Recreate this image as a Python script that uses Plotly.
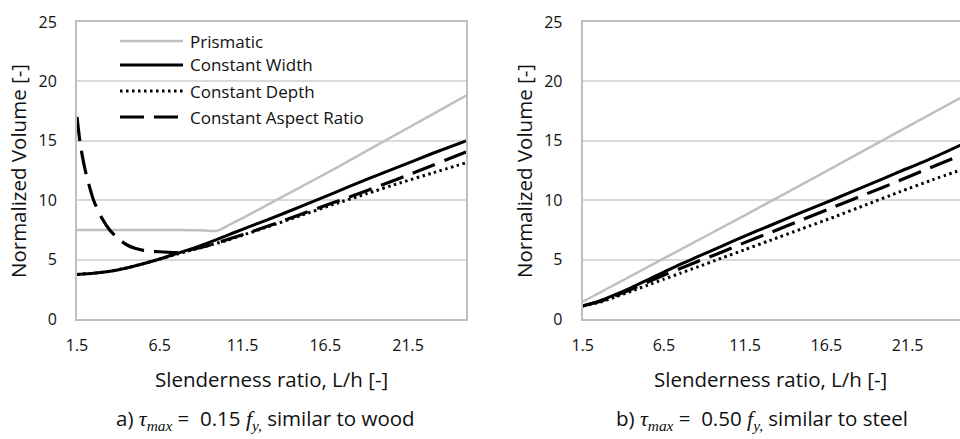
import plotly.graph_objects as go

# ---------------- Data ----------------
# Panel a) tau_max = 0.15 fy (wood)
a_prism_x = [1.5, 3.0, 5.0, 7.0, 8.5, 9.3, 9.8, 10.2, 10.6, 11.5, 13.0, 15.0, 17.0, 19.0, 21.0, 23.0, 25.0]
a_prism_y = [7.5, 7.5, 7.5, 7.5, 7.48, 7.44, 7.4, 7.55, 7.85, 8.5, 9.6, 11.1, 12.6, 14.15, 15.7, 17.25, 18.8]

a_width_x = [1.5, 2.5, 3.5, 4.5, 5.5, 6.5, 7.5, 8.5, 9.5, 10.5, 11.5, 13.0, 15.0, 17.0, 19.0, 21.0, 23.0, 25.0]
a_width_y = [3.75, 3.85, 4.02, 4.3, 4.65, 5.05, 5.5, 5.95, 6.45, 7.0, 7.55, 8.35, 9.45, 10.6, 11.75, 12.85, 13.95, 15.0]

a_depth_x = [1.5, 2.5, 3.5, 4.5, 5.5, 6.5, 7.5, 8.5, 9.5, 10.5, 11.5, 13.0, 15.0, 17.0, 19.0, 21.0, 23.0, 25.0]
a_depth_y = [3.75, 3.85, 4.02, 4.3, 4.65, 5.05, 5.45, 5.82, 6.2, 6.6, 7.05, 7.75, 8.7, 9.65, 10.55, 11.45, 12.3, 13.15]

a_aspect_x = [1.5, 1.7, 2.0, 2.5, 3.0, 3.5, 4.0, 4.5, 5.0, 5.5, 6.0, 6.5, 7.0, 7.5, 8.5, 9.5, 10.5, 11.5, 13.0, 15.0, 17.0, 19.0, 21.0, 23.0, 25.0]
a_aspect_y = [17.0, 14.7, 12.5, 10.0, 8.5, 7.45, 6.75, 6.25, 5.95, 5.78, 5.7, 5.66, 5.62, 5.6, 5.88, 6.22, 6.65, 7.1, 7.8, 8.8, 9.8, 10.8, 11.85, 12.95, 14.05]

# Panel b) tau_max = 0.50 fy (steel)
b_prism_x = [1.5, 6.5, 11.5, 16.5, 21.5, 25.0]
b_prism_y = [1.45, 5.1, 8.75, 12.45, 16.2, 18.8]

b_x = [1.5, 2.5, 3.5, 4.5, 5.5, 6.5, 7.5, 8.5, 10.0, 11.5, 13.0, 15.0, 17.0, 19.0, 21.0, 23.0, 25.0]
b_width_y = [1.1, 1.5, 2.05, 2.65, 3.3, 3.95, 4.6, 5.2, 6.1, 7.0, 7.85, 9.0, 10.1, 11.25, 12.4, 13.55, 14.8]
b_depth_y = [1.1, 1.4, 1.85, 2.35, 2.85, 3.35, 3.85, 4.35, 5.1, 5.85, 6.6, 7.6, 8.6, 9.65, 10.7, 11.7, 12.65]
b_aspect_y = [1.1, 1.45, 1.95, 2.5, 3.1, 3.7, 4.25, 4.8, 5.6, 6.45, 7.25, 8.35, 9.45, 10.55, 11.65, 12.8, 13.9]

series_names = ["Prismatic", "Constant Width", "Constant Depth", "Constant Aspect Ratio"]
x_tick_vals = [1.5, 6.5, 11.5, 16.5, 21.5]
y_tick_vals = [0, 5, 10, 15, 20, 25]

# ---------------- Styles ----------------
W, H = 960, 439
GREY = "#BFBFBF"
GRID = "#D9D9D9"
FONT = "Open Sans"
TXT = "#111111"
styles = {
    "Prismatic": dict(color=GREY, width=2.5, dash="solid"),
    "Constant Width": dict(color="black", width=3, dash="solid"),
    "Constant Depth": dict(color="black", width=3, dash="2.5px,3.5px"),
    "Constant Aspect Ratio": dict(color="black", width=3.2, dash="24px,10px"),
}

fig = go.Figure()

def add(xs, ys, name, xa, ya):
    fig.add_trace(go.Scatter(x=xs, y=ys, mode="lines", name=name,
                             line=dict(shape="spline", smoothing=0.6, **styles[name]),
                             xaxis=xa, yaxis=ya, showlegend=False, hoverinfo="skip"))

add(a_prism_x, a_prism_y, "Prismatic", "x", "y")
add(a_width_x, a_width_y, "Constant Width", "x", "y")
add(a_depth_x, a_depth_y, "Constant Depth", "x", "y")
add(a_aspect_x, a_aspect_y, "Constant Aspect Ratio", "x", "y")

add(b_prism_x, b_prism_y, "Prismatic", "x2", "y2")
add(b_x, b_width_y, "Constant Width", "x2", "y2")
add(b_x, b_depth_y, "Constant Depth", "x2", "y2")
add(b_x, b_aspect_y, "Constant Aspect Ratio", "x2", "y2")

ydom = [1 - 319 / H, 1 - 22 / H]
common_x = dict(tickvals=x_tick_vals, ticktext=[str(v) for v in x_tick_vals],
                showgrid=False, zeroline=False, showline=True, linecolor=GREY, linewidth=2,
                mirror=True, ticks="outside", ticklen=11, tickcolor="rgba(0,0,0,0)",
                automargin=False,
                tickfont=dict(family=FONT, size=16, color=TXT))
common_y = dict(range=[0, 25], tickvals=y_tick_vals, showgrid=True, gridcolor=GRID, gridwidth=1.5,
                zeroline=False, showline=True, linecolor=GREY, linewidth=2,
                ticks="outside", ticklen=15, tickcolor="rgba(0,0,0,0)",
                automargin=False,
                tickfont=dict(family=FONT, size=16, color=TXT))

fig.update_layout(
    template="none",
    width=W, height=H, margin=dict(l=0, r=0, t=0, b=0, pad=0, autoexpand=False),
    paper_bgcolor="white", plot_bgcolor="white",
    xaxis=dict(domain=[77 / W, 466 / W], range=[1.5, 25.0], anchor="y", **common_x),
    yaxis=dict(domain=ydom, anchor="x", mirror=True, **common_y),
    xaxis2=dict(domain=[582.7 / W, 1.0], range=[1.5, 24.72], anchor="y2", **common_x),
    yaxis2=dict(domain=ydom, anchor="x2", mirror=False, **common_y),
)

ann = []
# axis titles
for cx in [271, 770]:
    ann.append(dict(text="Slenderness ratio, L/h [-]", x=cx / W, y=1 - 379 / H, xref="paper", yref="paper",
                    showarrow=False, xanchor="center", yanchor="middle",
                    font=dict(family=FONT, size=20.5, color=TXT)))
for cx in [18, 524]:
    ann.append(dict(text="Normalized Volume [-]", x=cx / W, y=1 - 171 / H, xref="paper", yref="paper",
                    showarrow=False, xanchor="center", yanchor="middle", textangle=-90,
                    font=dict(family=FONT, size=20.5, color=TXT)))

# captions
math = "font-family:'Liberation Serif';font-size:22px"
cap_a = (f"a) <span style=\"{math}\"><i>τ</i><sub><i>max</i></sub></span> =  0.15 "
         f"<span style=\"{math}\"><i>f</i><sub><i>y,</i></sub></span> similar to wood")
cap_b = (f"b) <span style=\"{math}\"><i>τ</i><sub><i>max</i></sub></span> =  0.50 "
         f"<span style=\"{math}\"><i>f</i><sub><i>y,</i></sub></span> similar to steel")
for cx, txt in [(265, cap_a), (762, cap_b)]:
    ann.append(dict(text=txt, x=cx / W, y=1 - 419 / H, xref="paper", yref="paper",
                    showarrow=False, xanchor="center", yanchor="middle",
                    font=dict(family=FONT, size=20.5, color=TXT)))

# legend (inside panel a)
legend_rows = [41, 65, 91, 117]
shapes = []
for name, py in zip(series_names, legend_rows):
    st = styles[name]
    shapes.append(dict(type="line", xref="paper", yref="paper",
                       x0=120 / W, x1=183 / W, y0=1 - py / H, y1=1 - py / H,
                       line=dict(color=st["color"], width=st["width"], dash=st["dash"])))
    ann.append(dict(text=name, x=188 / W, y=1 - py / H, xref="paper", yref="paper",
                    showarrow=False, xanchor="left", yanchor="middle",
                    font=dict(family=FONT, size=17, color=TXT)))

fig.update_layout(annotations=ann, shapes=shapes)
fig.write_html("out.html", config={"displayModeBar": False},
               post_script="document.body.style.margin='0';document.body.style.overflow='hidden';")
